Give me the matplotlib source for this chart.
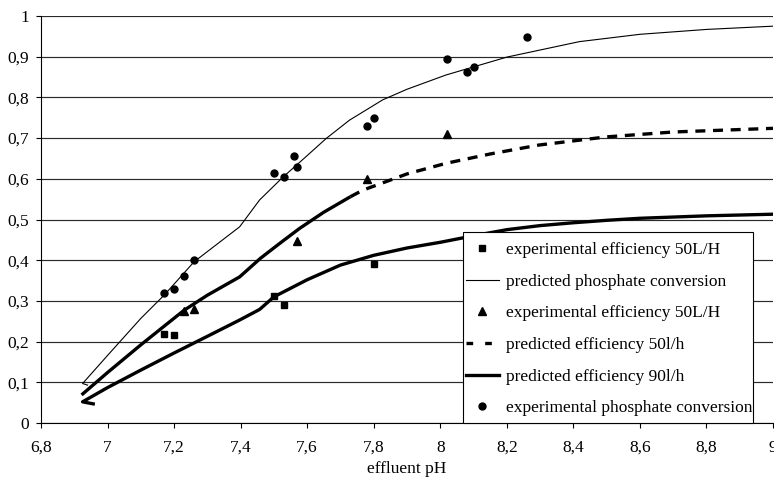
import matplotlib
matplotlib.use("Agg")
import matplotlib.pyplot as plt
from matplotlib.lines import Line2D
from matplotlib.patches import Rectangle
import numpy as np

plt.rcParams['font.family'] = ['Liberation Serif', 'DejaVu Serif']

# experimental data
sq_x = [7.17, 7.20, 7.50, 7.53, 7.80]
sq_y = [0.218, 0.215, 0.312, 0.290, 0.390]

tri_x = [7.23, 7.26, 7.57, 7.78, 8.02]
tri_y = [0.275, 0.280, 0.447, 0.600, 0.710]

circ_x = [7.17, 7.20, 7.23, 7.26, 7.50, 7.53, 7.56, 7.57, 7.78, 7.80, 8.02, 8.08, 8.10, 8.26]
circ_y = [0.320, 0.330, 0.360, 0.400, 0.615, 0.605, 0.655, 0.630, 0.730, 0.750, 0.895, 0.862, 0.875, 0.948]

# predicted curves
phos_x = [6.94, 6.925, 7.0, 7.1, 7.17, 7.26, 7.33, 7.397, 7.457, 7.527, 7.6, 7.657, 7.727,
          7.827, 7.9, 8.017, 8.2, 8.418, 8.6, 8.8, 9.0]
phos_y = [0.093, 0.097, 0.166, 0.257, 0.314, 0.396, 0.44, 0.482, 0.548, 0.604, 0.657, 0.699, 0.744,
          0.794, 0.82, 0.855, 0.899, 0.937, 0.955, 0.967, 0.975]

e50_x = [6.922, 7.0, 7.1, 7.23, 7.3, 7.397, 7.46, 7.517, 7.577, 7.65, 7.73,
         7.767, 7.9, 8.017, 8.15, 8.297, 8.5, 8.7, 9.0]
e50_y = [0.069, 0.124, 0.192, 0.277, 0.314, 0.359, 0.405, 0.441, 0.478, 0.518, 0.556,
         0.572, 0.612, 0.638, 0.661, 0.683, 0.703, 0.715, 0.724]

e90_x = [6.957, 6.925, 7.0, 7.1, 7.2, 7.3, 7.397, 7.457, 7.5, 7.6, 7.7, 7.8, 7.9,
         8.0, 8.1, 8.2, 8.3, 8.4, 8.5, 8.6, 8.8, 9.0]
e90_y = [0.047, 0.052, 0.087, 0.130, 0.172, 0.213, 0.253, 0.279, 0.31, 0.352, 0.388, 0.412, 0.43,
         0.444, 0.46, 0.475, 0.485, 0.492, 0.498, 0.503, 0.509, 0.513]

x_ticks = [6.8, 7.0, 7.2, 7.4, 7.6, 7.8, 8.0, 8.2, 8.4, 8.6, 8.8, 9.0]
y_ticks = [0, 0.1, 0.2, 0.3, 0.4, 0.5, 0.6, 0.7, 0.8, 0.9, 1.0]

legend_labels = ['experimental efficiency 50L/H', 'predicted phosphate conversion',
                 'experimental efficiency 50L/H', 'predicted efficiency 50l/h',
                 'predicted efficiency 90l/h', 'experimental phosphate conversion']

FS = 12.5
W, H = 774, 478

fig = plt.figure(figsize=(W/100, H/100), dpi=100)
ax = fig.add_axes([41/W, 1-423/H, (773-41)/W, (423-16)/H])

ax.set_xlim(6.8, 9.0)
ax.set_ylim(0, 1)
for y in y_ticks:
    ax.axhline(y, color='#2a2a2a', lw=0.85, zorder=0)

ax.plot(sq_x, sq_y, 's', color='black', ms=4.8, ls='none', zorder=5)
ax.plot(phos_x, phos_y, '-', color='black', lw=0.8, zorder=3)
ax.plot(tri_x, tri_y, '^', color='black', ms=5.5, ls='none', zorder=5)

e50_x_arr = np.array(e50_x); e50_y_arr = np.array(e50_y)
m1 = e50_x_arr <= 7.73
m2 = e50_x_arr >= 7.73
ax.plot(e50_x_arr[m1], e50_y_arr[m1], '-', color='black', lw=2.4, zorder=3, solid_capstyle='butt')
ax.plot(e50_x_arr[m2], e50_y_arr[m2], color='black', lw=2.4, zorder=3,
        dashes=(3.0, 2.3), dash_capstyle='butt')
ax.plot(e90_x, e90_y, '-', color='black', lw=2.4, zorder=3)
ax.plot(circ_x, circ_y, 'o', color='black', ms=5, ls='none', zorder=5)

ax.set_xticks(x_ticks)
ax.set_xticklabels([f"{v:g}".replace('.', ',') for v in x_ticks], fontsize=FS)
ax.set_yticks(y_ticks)
ax.set_yticklabels([f"{v:g}".replace('.', ',') for v in y_ticks], fontsize=FS)
ax.tick_params(axis='both', direction='out', length=3.6, width=0.8, color='black')
ax.tick_params(axis='x', pad=8.5)
ax.tick_params(axis='y', pad=5)
for s in ['top', 'right']:
    ax.spines[s].set_visible(False)
for s in ['left', 'bottom']:
    ax.spines[s].set_color('black')
    ax.spines[s].set_linewidth(0.8)
ax.set_xlabel('effluent pH', fontsize=FS, labelpad=4)

# legend box (white, black edge) drawn in figure pixel space
frame = Rectangle((463/W, 1-422.7/H), (753-463)/W, (422.7-231.7)/H,
                  transform=fig.transFigure, facecolor='white', edgecolor='black',
                  lw=0.8, zorder=9)
ax.add_artist(frame)
frame.set_clip_on(False)

hl = [Line2D([], [], marker='s', color='black', ls='none', ms=4.8),
      Line2D([], [], color='black', lw=0.8),
      Line2D([], [], marker='^', color='black', ls='none', ms=5.5),
      Line2D([], [], color='black', lw=2.4, dashes=(2.0, 3.6), dash_capstyle='butt'),
      Line2D([], [], color='black', lw=2.4),
      Line2D([], [], marker='o', color='black', ls='none', ms=5)]
leg = ax.legend(hl, legend_labels,
                loc='center left', bbox_to_anchor=(465.5/W, 1-329.2/H),
                bbox_transform=fig.transFigure, fontsize=FS, frameon=False,
                borderpad=0, labelspacing=0.89, handlelength=1.95,
                handletextpad=0.4, borderaxespad=0)
leg.set_zorder(10)

fig.savefig('out.png', dpi=100)
